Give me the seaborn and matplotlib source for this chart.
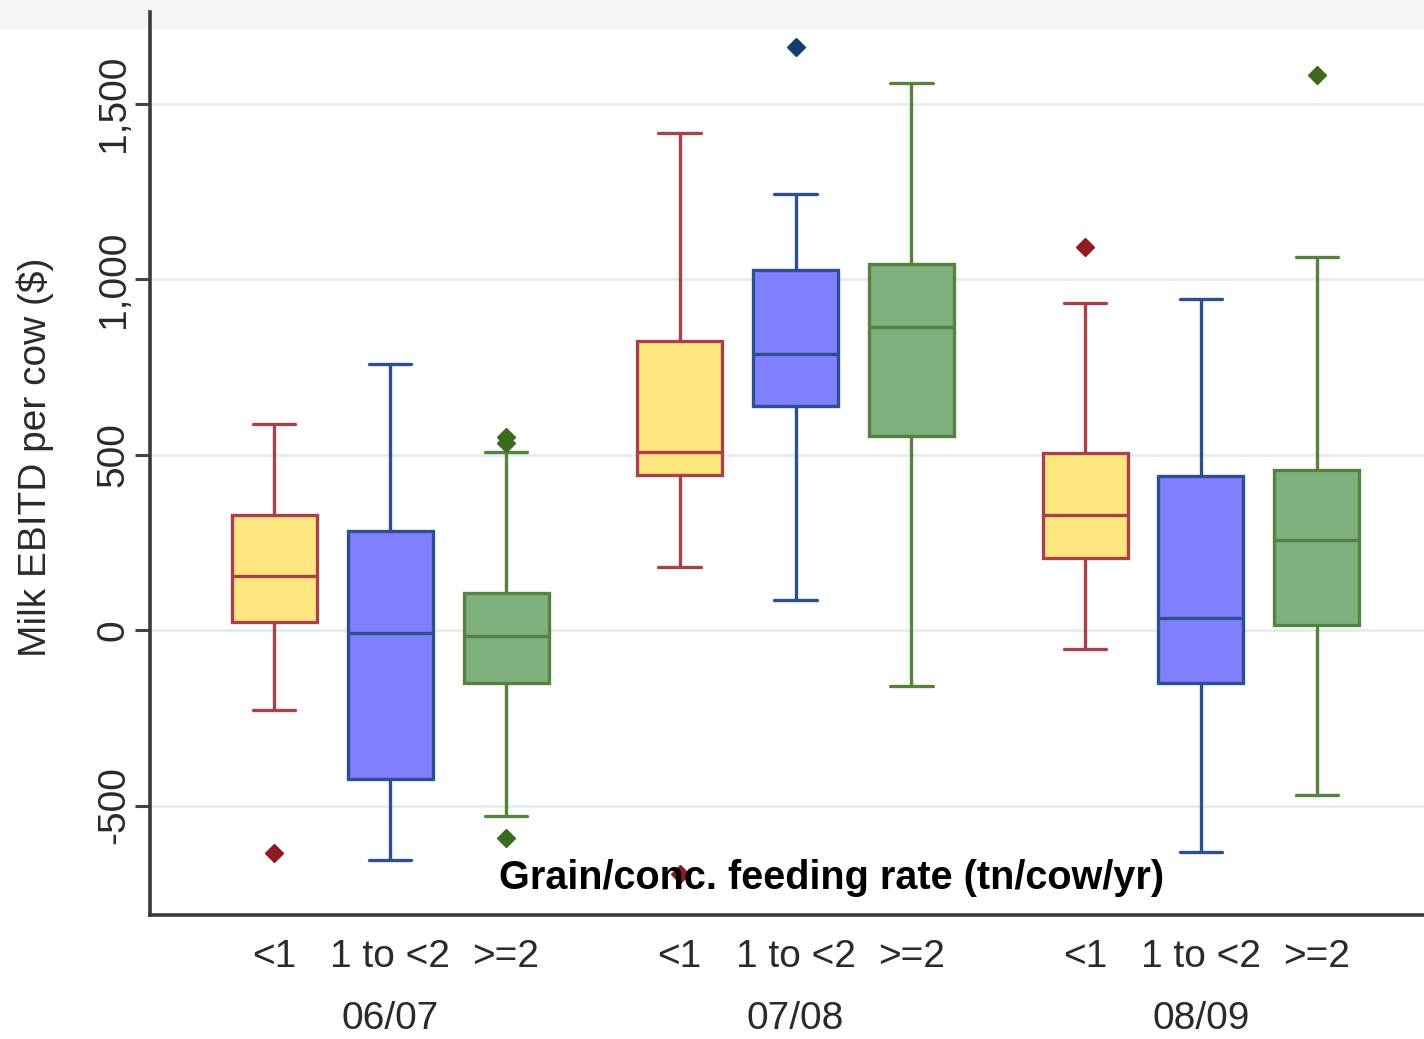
import numpy as np
import pandas as pd
import matplotlib
matplotlib.use("Agg")
import matplotlib.pyplot as plt
from matplotlib.patches import Rectangle
import seaborn as sns

years = ["06/07", "07/08", "08/09"]
rates = ["<1", "1 to <2", ">=2"]

# box stats: one row per year, one column per feeding rate
whisk_lo = [[-228, -655, -530], [179, 85, -160], [-54, -632, -470]]
q1 = [[23, -425, -151], [442, 638, 553], [205, -151, 14]]
med = [[154, -9, -17], [507, 786, 863], [328, 34, 256]]
q3 = [[328, 282, 105], [823, 1026, 1043], [504, 439, 456]]
whisk_hi = [[587, 758, 507], [1416, 1242, 1558], [932, 943, 1063]]
outliers = [[[-635], [], [-593, 533, 550]],
            [[-695], [1661], []],
            [[1091], [], [1581]]]

yticks = [-500, 0, 500, 1000, 1500]
ytick_labels = ["-500", "0", "500", "1,000", "1,500"]

palette = {"<1": "#FFE67F", "1 to <2": "#8080FF", ">=2": "#7DB07C"}
edges = {"<1": "#A8414A", "1 to <2": "#2F5090", ">=2": "#55833F"}
dots = {"<1": "#8E1B22", "1 to <2": "#143C70", ">=2": "#3D6B1E"}

# rebuild samples so the quartiles / whiskers come out at the read values
rows = []
for g, yr in enumerate(years):
    for i, rt in enumerate(rates):
        vals = ([whisk_lo[g][i]] + [q1[g][i]] * 5 + [med[g][i]] * 5
                + [q3[g][i]] * 5 + [whisk_hi[g][i]] + outliers[g][i])
        for v in vals:
            rows.append((yr, rt, v))
df = pd.DataFrame(rows, columns=["year", "rate", "ebitd"])

sns.set_style("white")
plt.rcParams["font.family"] = ["Liberation Sans", "DejaVu Sans"]

fig = plt.figure(figsize=(14.24, 10.39), dpi=100)
fig.patches.append(Rectangle((0, 1 - 28 / 1039), 1, 28 / 1039, transform=fig.transFigure,
                             color="#F5F6F7", zorder=-10))
ax = fig.add_axes([150 / 1424, 1 - 915 / 1039, 1274 / 1424, 903 / 1039])
ax.set_facecolor("none")

box_span = 0.858
for rt in rates:
    sns.boxplot(data=df[df["rate"] == rt], x="year", y="ebitd", hue="rate",
                order=years, hue_order=rates, palette=palette, dodge=True,
                width=box_span, gap=0.267, saturation=1, linecolor=edges[rt],
                linewidth=2.4, whis=1.6, legend=False, fliersize=9.5,
                flierprops=dict(marker="D", markerfacecolor=dots[rt],
                                markeredgecolor=dots[rt]),
                ax=ax)

ax.set_xlim(-0.592, 2.55)
ax.set_ylim(-812, 1761)

slot = box_span / len(rates)
ax.xaxis.remove_overlapping_locs = False
ax.set_xticks(range(len(years)))
ax.set_xticklabels(years)
ax.set_xticks([g + (i - 1) * slot for g in range(len(years)) for i in range(len(rates))], minor=True)
ax.set_xticklabels(rates * len(years), minor=True)
ax.tick_params(axis="x", which="major", length=0, pad=62, labelsize=28, labelcolor="#2a2a2a")
ax.tick_params(axis="x", which="minor", length=0, pad=17, labelsize=28, labelcolor="#2a2a2a")

ax.set_yticks(yticks)
ax.set_yticklabels(ytick_labels, rotation=90, va="center")
ax.tick_params(axis="y", length=11, width=2.2, color="#444444", pad=2, labelsize=28,
               labelcolor="#2a2a2a", left=True)

ax.yaxis.grid(True, color="#E3ECF0", lw=2)
ax.set_axisbelow(True)
ax.set_xlabel("")
ax.set_ylabel("")

for side in ["top", "right"]:
    ax.spines[side].set_visible(False)
for side in ["left", "bottom"]:
    ax.spines[side].set_color("#3a3a3a")
    ax.spines[side].set_linewidth(2.6)

ax.text(0.535, 0.041, "Grain/conc. feeding rate (tn/cow/yr)", transform=ax.transAxes,
        ha="center", va="center", fontsize=28.5, fontweight="bold", color="black", zorder=10)
fig.text(35 / 1424, 1 - 457 / 1039, "Milk EBITD per cow ($)", rotation=90,
         ha="center", va="center", fontsize=28, color="#2a2a2a")

fig.savefig("out.png", dpi=100)
